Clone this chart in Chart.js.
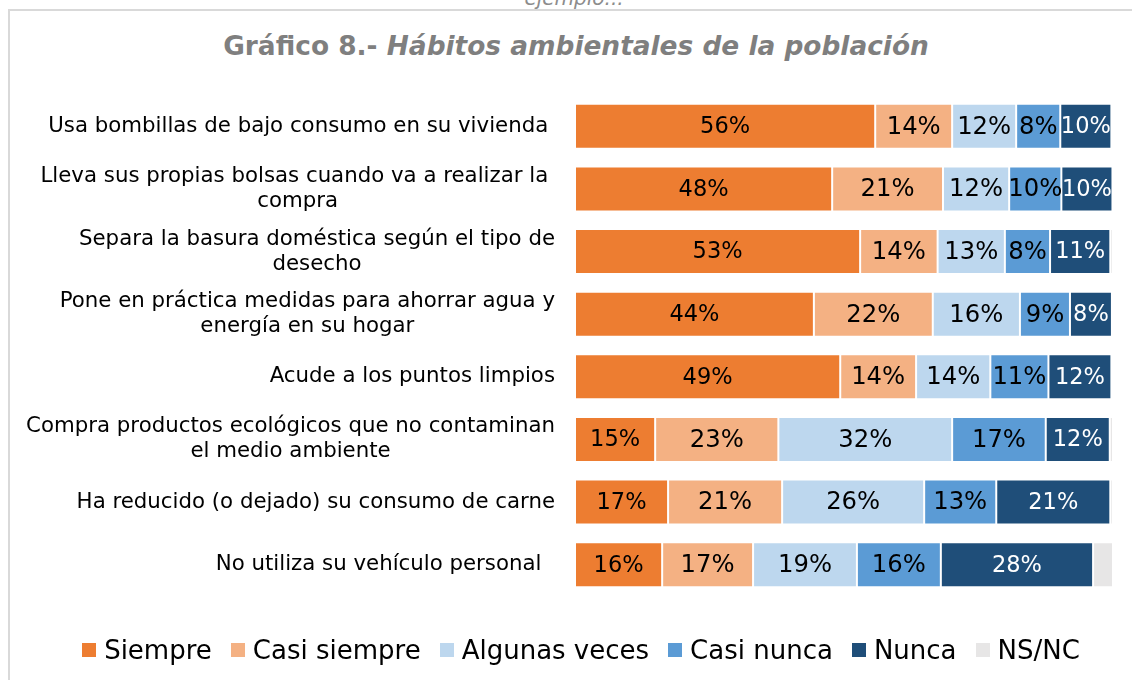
<!DOCTYPE html>
<html>
<head>
<meta charset="utf-8">
<script src="https://cdn.jsdelivr.net/npm/chart.js@4.4.1/dist/chart.umd.min.js"></script>
<style>
  html, body { margin: 0; padding: 0; background: #fff; }
  #wrap { position: relative; width: 1132px; height: 680px; overflow: hidden; font-family: "DejaVu Sans", Verdana, sans-serif; }
  #frame { position: absolute; left: 8px; top: 9px; width: 1200px; height: 700px; border-left: 2px solid #d9d9d9; border-top: 2px solid #d9d9d9; }
  #cut { position: absolute; left: 0; width: 1148px; top: -12px; text-align: center; font-style: italic; font-size: 20px; line-height: 20px; color: #8c8c8c; }
  #title { position: absolute; left: 0; width: 1152px; top: 31px; text-align: center; font-weight: bold; font-size: 26.4px; line-height: 30px; color: #7f7f7f; }
  #title i { font-style: italic; }
  #legend { position: absolute; left: 0; width: 1162px; top: 634px; display: flex; justify-content: center; align-items: center; font-size: 26px; line-height: 32px; color: #000; }
  .item { display: flex; align-items: center; margin-right: 19px; }
  .item:last-child { margin-right: 0; }
  .box { width: 14px; height: 14px; margin-right: 8px; }
  canvas { position: absolute; left: 0; top: 0; }
</style>
</head>
<body>
<div id="wrap">
  <div id="cut">ejemplo...</div>
  <div id="frame"></div>
  <div id="title">Gráfico 8.- <i>Hábitos ambientales de la población</i></div>
  <canvas id="c" width="1132" height="680"></canvas>
  <div id="legend"></div>
</div>
<script>
const categories = [
  ["Usa bombillas de bajo consumo en su vivienda "],
  ["Lleva sus propias bolsas cuando va a realizar la ", "compra"],
  ["Separa la basura doméstica según el tipo de", "desecho"],
  ["Pone en práctica medidas para ahorrar agua y", "energía en su hogar"],
  ["Acude a los puntos limpios"],
  ["Compra productos ecológicos que no contaminan", "el medio ambiente"],
  ["Ha reducido (o dejado) su consumo de carne"],
  ["No utiliza su vehículo personal  "]
];
const seriesNames = ["Siempre", "Casi siempre", "Algunas veces", "Casi nunca", "Nunca", "NS/NC"];
const siempre      = [55.8, 47.8, 53.0, 44.4, 49.3, 14.9, 17.3, 16.2];
const casiSiempre  = [14.3, 20.6, 14.4, 22.1, 14.1, 22.9, 21.2, 16.9];
const algunasVeces = [11.9, 12.3, 12.5, 16.2, 13.8, 32.3, 26.4, 19.3];
const casiNunca    = [8.2, 9.7, 8.4, 9.3, 10.8, 17.4, 13.4, 15.6];
const nunca        = [9.5, 9.5, 11.2, 7.8, 11.7, 11.9, 21.2, 28.3];
const nsnc         = [0.3, 0.1, 0.5, 0.2, 0.3, 0.6, 0.5, 3.7];

const colors = ["#ED7D31", "#F4B183", "#BDD7EE", "#5B9BD5", "#1F4E79", "#E7E6E6"];
const labelColors = ["#000", "#000", "#000", "#000", "#fff", null];
const labelSizes = [22.5, 24.3, 24.3, 24.3, 22.5, 0];
const values = [siempre, casiSiempre, algunasVeces, casiNunca, nunca, nsnc];

const datasets = values.map((v, i) => ({
  label: seriesNames[i],
  data: v,
  backgroundColor: colors[i],
  borderColor: "rgba(255,255,255,0.7)",
  borderWidth: 1,
  borderSkipped: false,
  barPercentage: 0.72,
  categoryPercentage: 1.0
}));

const labelPlugin = {
  id: "labels",
  afterDatasetsDraw(chart) {
    const ctx = chart.ctx;
    ctx.save();
    ctx.textAlign = "center";
    ctx.textBaseline = "middle";
    chart.data.datasets.forEach((ds, di) => {
      if (!labelColors[di]) return;
      ctx.font = labelSizes[di] + "px 'DejaVu Sans'";
      const meta = chart.getDatasetMeta(di);
      meta.data.forEach((el, i) => {
        const v = ds.data[i];
        ctx.fillStyle = labelColors[di];
        ctx.fillText(Math.round(v) + "%", (el.x + el.base) / 2, el.y + 1);
      });
    });
    const y = chart.scales.y;
    ctx.font = "21.3px 'DejaVu Sans'";
    ctx.fillStyle = "#000";
    const right = 555;
    const lh = 25;
    categories.forEach((lines, i) => {
      const cy = y.getPixelForValue(i);
      const w = Math.max(...lines.map(l => ctx.measureText(l).width));
      const cx = right - w / 2;
      const top = cy - (lines.length - 1) * lh / 2;
      lines.forEach((l, k) => {
        ctx.fillText(l, cx, top + k * lh);
      });
    });
    ctx.restore();
  }
};

new Chart(document.getElementById("c"), {
  type: "bar",
  data: { labels: categories.map(c => c.join(" ")), datasets },
  options: {
    indexAxis: "y",
    responsive: false,
    animation: false,
    layout: { padding: { left: 575, right: 19, top: 95, bottom: 84 } },
    plugins: { legend: { display: false }, title: { display: false }, tooltip: { enabled: false } },
    scales: {
      x: { stacked: true, min: 0, max: 100, display: false },
      y: { stacked: true, display: false }
    }
  },
  plugins: [labelPlugin]
});

const lg = document.getElementById("legend");
seriesNames.forEach((n, i) => {
  const it = document.createElement("div");
  it.className = "item";
  const b = document.createElement("div");
  b.className = "box";
  b.style.background = colors[i];
  const t = document.createElement("span");
  t.textContent = n;
  it.appendChild(b); it.appendChild(t);
  lg.appendChild(it);
});
</script>
</body>
</html>
